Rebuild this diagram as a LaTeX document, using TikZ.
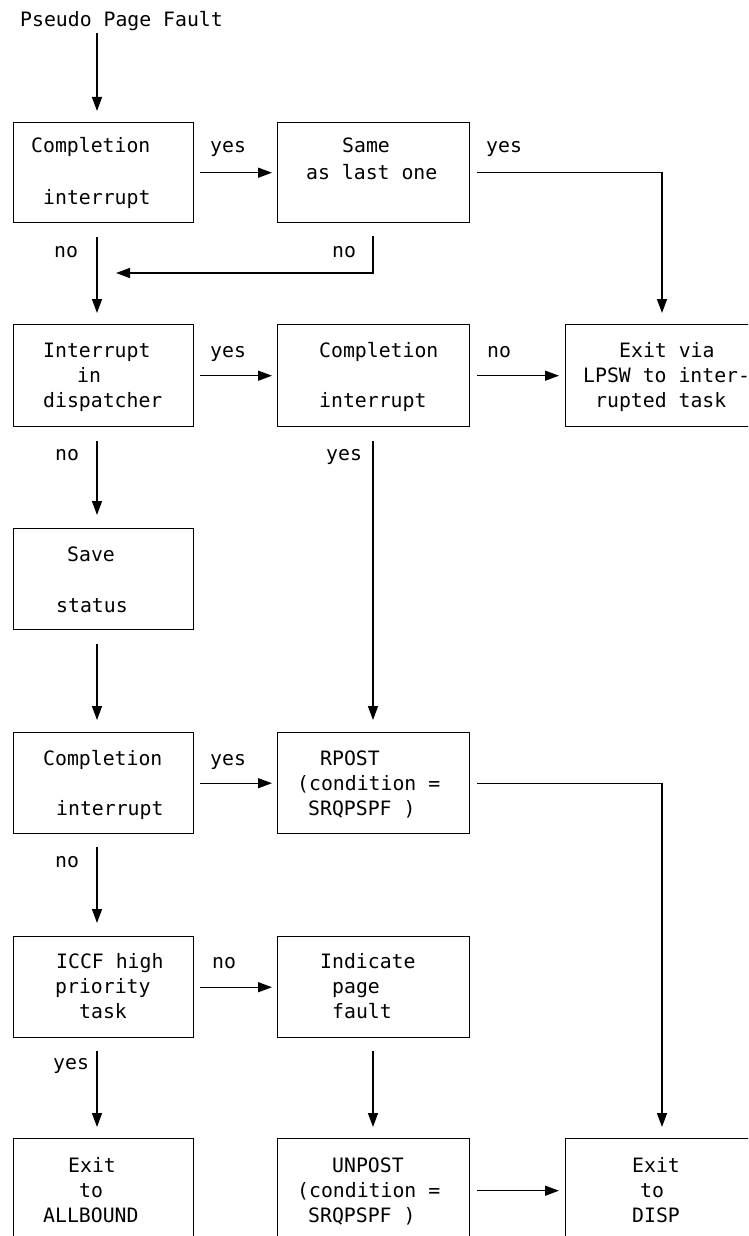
\documentclass[tikz,border=0pt]{standalone}
\usepackage{fontspec}
\usetikzlibrary{arrows.meta}
\newfontfamily\monofnt{DejaVu Sans Mono}
\begin{document}
\begin{tikzpicture}[x=1pt,y=-1pt,
  box/.style={draw, line width=1.4pt, anchor=north west, inner sep=0pt},
  boxl/.style={box, minimum width=180pt},
  boxm/.style={box, minimum width=192pt},
  lbl/.style={anchor=base west, inner sep=0pt, font=\monofnt\fontsize{19.8}{25.5}\selectfont},
  arr/.style={-{Triangle[length=14pt,width=10pt]}, line width=1.4pt},
  ln/.style={line width=1.4pt}]
\useasboundingbox (0,0) rectangle (748,1236);
\clip (0,0) rectangle (748,1236);
\fill[white] (0,0) rectangle (748,1236);

% column coordinates
\coordinate (colA) at (97,0);
\coordinate (colB) at (373,0);
\coordinate (colC) at (662,0);
\coordinate (merge) at (116,273);
\coordinate (start) at (97,33);

% boxes
\node[boxl, minimum height=100pt] (c1) at (13,122) {};
\node[boxm, minimum height=100pt] (s1) at (277,122) {};
\node[boxl, minimum height=102pt] (i2) at (13,324) {};
\node[boxm, minimum height=102pt] (c2) at (277,324) {};
\node[boxm, minimum height=102pt] (x2) at (565,324) {};
\node[boxl, minimum height=101pt] (sv) at (13,528) {};
\node[boxl, minimum height=101pt] (c4) at (13,732) {};
\node[boxm, minimum height=101pt] (rp) at (277,732) {};
\node[boxl, minimum height=101pt] (ic) at (13,936) {};
\node[boxm, minimum height=101pt] (ip) at (277,936) {};
\node[boxl, minimum height=104pt] (xa) at (13,1138) {};
\node[boxm, minimum height=104pt] (un) at (277,1138) {};
\node[boxm, minimum height=104pt] (xd) at (565,1138) {};

% texts
\node[lbl] (title) at (20,27) {Pseudo Page Fault};

\node[lbl] (t1a) at (31,153) {Completion};
\node[lbl] (t1b) at (43,204) {interrupt};
\node[lbl] (y1) at (210,153) {yes};
\node[lbl] (t2a) at (342,153) {Same};
\node[lbl] (t2b) at (306,179) {as last one};
\node[lbl] (y2) at (486,153) {yes};
\node[lbl] (n1) at (54,257) {no};
\node[lbl] (n2) at (332,257) {no};

\node[lbl] (t3a) at (43,357) {Interrupt};
\node[lbl] (t3b) at (77,382) {in};
\node[lbl] (t3c) at (43,407) {dispatcher};
\node[lbl] (y3) at (210,357) {yes};
\node[lbl] (t4a) at (319,357) {Completion};
\node[lbl] (t4b) at (319,407) {interrupt};
\node[lbl] (n3) at (487,357) {no};
\node[lbl] (t5a) at (619,357) {Exit via};
\node[lbl] (t5b) at (583,382) {LPSW to inter-};
\node[lbl] (t5c) at (595,407) {rupted task};
\node[lbl] (n4) at (55,460) {no};
\node[lbl] (y4) at (326,460) {yes};

\node[lbl] (t6a) at (67,561) {Save};
\node[lbl] (t6b) at (56,612) {status};

\node[lbl] (t7a) at (43,765) {Completion};
\node[lbl] (t7b) at (56,815) {interrupt};
\node[lbl] (y5) at (210,765) {yes};
\node[lbl] (t8a) at (320,765) {RPOST};
\node[lbl] (t8b) at (297,790) {(condition =};
\node[lbl] (t8c) at (308,815) {SRQPSPF )};
\node[lbl] (n5) at (55,867) {no};

\node[lbl] (t9a) at (56,968) {ICCF high};
\node[lbl] (t9b) at (55,993) {priority};
\node[lbl] (t9c) at (79,1018) {task};
\node[lbl] (n6) at (212,968) {no};
\node[lbl] (t10a) at (320,968) {Indicate};
\node[lbl] (t10b) at (332,993) {page};
\node[lbl] (t10c) at (332,1018) {fault};
\node[lbl] (y6) at (53,1069) {yes};

\node[lbl] (t11a) at (68,1172) {Exit};
\node[lbl] (t11b) at (79,1197) {to};
\node[lbl] (t11c) at (43,1222) {ALLBOUND};
\node[lbl] (t12a) at (332,1172) {UNPOST};
\node[lbl] (t12b) at (297,1197) {(condition =};
\node[lbl] (t12c) at (308,1222) {SRQPSPF )};
\node[lbl] (t13a) at (632,1172) {Exit};
\node[lbl] (t13b) at (640,1197) {to};
\node[lbl] (t13c) at (632,1222) {DISP};

% connectors
\draw[arr, shorten >=11pt] (start) -- (c1.north -| colA);
\draw[arr, shorten <=6pt, shorten >=5pt] (c1.east) -- (s1.west);
\draw[arr, shorten <=7pt, shorten >=11pt] (s1.east) -| (x2.north -| colC);
\draw[arr, shorten <=13pt] (s1.south -| colB) |- (merge);
\draw[arr, shorten <=14pt, shorten >=11pt] (c1.south -| colA) -- (i2.north -| colA);

\draw[arr, shorten <=6pt, shorten >=5pt] (i2.east) -- (c2.west);
\draw[arr, shorten <=7pt, shorten >=6pt] (c2.east) -- (x2.west);
\draw[arr, shorten <=14pt, shorten >=13pt] (i2.south -| colA) -- (sv.north -| colA);
\draw[arr, shorten <=14pt, shorten >=12pt] (c2.south -| colB) -- (rp.north -| colB);

\draw[arr, shorten <=14pt, shorten >=12pt] (sv.south -| colA) -- (c4.north -| colA);

\draw[arr, shorten <=6pt, shorten >=5pt] (c4.east) -- (rp.west);
\draw[arr, shorten <=7pt, shorten >=11pt] (rp.east) -| (xd.north -| colC);
\draw[arr, shorten <=13pt, shorten >=13pt] (c4.south -| colA) -- (ic.north -| colA);

\draw[arr, shorten <=6pt, shorten >=5pt] (ic.east) -- (ip.west);
\draw[arr, shorten <=13pt, shorten >=11pt] (ic.south -| colA) -- (xa.north -| colA);
\draw[arr, shorten <=13pt, shorten >=11pt] (ip.south -| colB) -- (un.north -| colB);

\draw[arr, shorten <=7pt, shorten >=6pt] (un.east) -- (xd.west);
\end{tikzpicture}
\end{document}
